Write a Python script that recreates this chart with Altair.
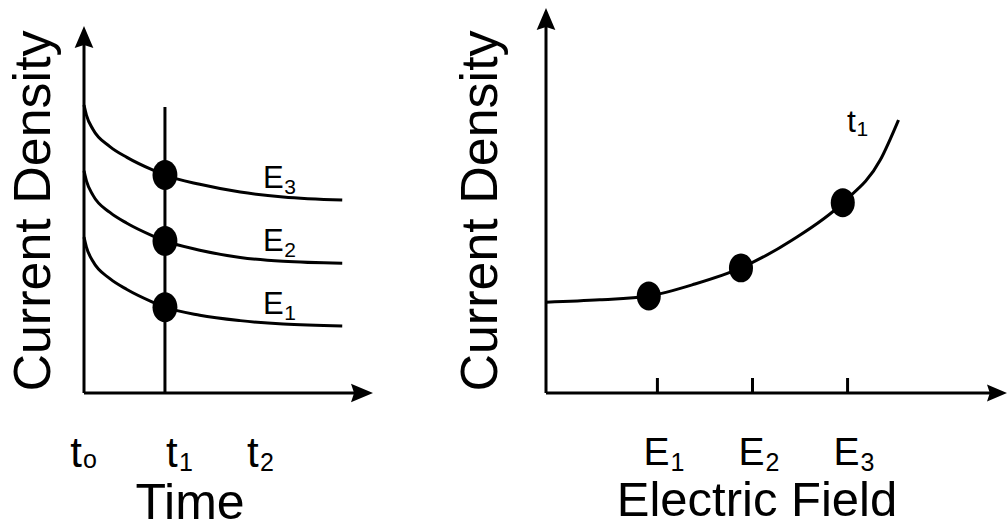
import altair as alt
import pandas as pd

# ---------------- data ----------------
# Left panel: current density vs time, one curve per electric field
time_pts = [0.0, 0.03, 0.11, 0.32, 0.53, 0.84, 1.0, 1.43, 1.93, 2.46, 3.19]
j_E1 = [4.05, 3.79, 3.42, 2.97, 2.69, 2.37, 2.23, 2.02, 1.88, 1.79, 1.74]
j_E2 = [5.77, 5.51, 5.14, 4.69, 4.41, 4.09, 3.95, 3.71, 3.52, 3.42, 3.37]
j_E3 = [7.48, 7.22, 6.85, 6.40, 6.12, 5.80, 5.66, 5.42, 5.22, 5.09, 5.01]
field_names = ["E1", "E2", "E3"]
field_subs = ["1", "2", "3"]
t1_value = 1.0
t1_dots = [2.23, 3.95, 5.66]
t1_line_top = 7.43
time_ticks = [0.0, 1.0, 2.0]
time_tick_subs = ["o", "1", "2"]
time_max = 3.57
jl_max = 9.53

# Right panel: current density vs electric field at t1
field_pts = [0.0, 0.56, 1.07, 1.55, 2.03, 2.56, 3.09, 3.48, 3.67]
j_t1 = [2.36, 2.42, 2.52, 2.83, 3.25, 3.97, 4.94, 6.05, 7.09]
dot_E = [1.07, 2.03, 3.09]
dot_j = [2.52, 3.25, 4.94]
field_ticks = [1.16, 2.15, 3.14]
field_max = 4.8
jr_max = 10.0

FONT = "Liberation Sans"
ELLIPSE = "M-0.83,0 A0.83,1 0 1,0 0.83,0 A0.83,1 0 1,0 -0.83,0 Z"
UP = "M0,0 L0.85,2 L0,1.72 L-0.85,2 Z"
RIGHT = "M0,0 L-2,-0.85 L-1.72,0 L-2,0.85 Z"

LX = alt.Scale(domain=[0, time_max], range=[84, 373], nice=False, zero=False)
LY = alt.Scale(domain=[0, 10], range=[393, 8], nice=False, zero=False)
RX = alt.Scale(domain=[0, field_max], range=[546, 1007], nice=False, zero=False)
RY = alt.Scale(domain=[0, 10], range=[393, 8], nice=False, zero=False)


def lx(f):
    return alt.X(f, type="quantitative", scale=LX, axis=None)


def ly(f):
    return alt.Y(f, type="quantitative", scale=LY, axis=None)


def rx(f):
    return alt.X(f, type="quantitative", scale=RX, axis=None)


def ry(f):
    return alt.Y(f, type="quantitative", scale=RY, axis=None)


# ---------------- left panel ----------------
rows = []
for name, vals in zip(field_names, [j_E1, j_E2, j_E3]):
    for t, j in zip(time_pts, vals):
        rows.append({"t": t, "j": j, "field": name})
df_left = pd.DataFrame(rows)

left_curves = alt.Chart(df_left).mark_line(
    color="black", strokeWidth=3, interpolate="monotone"
).encode(x=lx("t"), y=ly("j"), detail="field:N")

df_t1 = pd.DataFrame({"t": [t1_value], "j0": [0.0], "j1": [t1_line_top]})
left_t1 = alt.Chart(df_t1).mark_rule(color="black", strokeWidth=3).encode(
    x=lx("t"), y=ly("j0"), y2="j1"
)

df_dots_l = pd.DataFrame({"t": [t1_value] * 3, "j": t1_dots})
left_dots = alt.Chart(df_dots_l).mark_point(
    shape=ELLIPSE, size=900, filled=True, color="black", opacity=1, strokeWidth=0
).encode(x=lx("t"), y=ly("j"))

df_laxes = pd.DataFrame({
    "t0": [0.0, 0.0], "t1": [0.0, time_max - 0.15],
    "j0": [0.0, 0.0], "j1": [jl_max - 0.3, 0.0],
})
left_axes = alt.Chart(df_laxes).mark_rule(color="black", strokeWidth=3).encode(
    x=lx("t0"), x2="t1", y=ly("j0"), y2="j1"
)
left_up = alt.Chart(pd.DataFrame({"t": [0.0], "j": [jl_max]})).mark_point(
    shape=UP, size=484, filled=True, color="black", opacity=1, strokeWidth=0
).encode(x=lx("t"), y=ly("j"))
left_right = alt.Chart(pd.DataFrame({"t": [time_max], "j": [0.0]})).mark_point(
    shape=RIGHT, size=484, filled=True, color="black", opacity=1, strokeWidth=0
).encode(x=lx("t"), y=ly("j"))

df_lab = pd.DataFrame({
    "t": [time_pts[-1]] * 3,
    "j": [j_E1[-1], j_E2[-1], j_E3[-1]],
    "sub": field_subs,
})
left_lab_main = alt.Chart(df_lab).mark_text(
    text="E", font=FONT, fontSize=31, color="black", dx=-69, dy=-12,
    align="center", baseline="alphabetic"
).encode(x=lx("t"), y=ly("j"))
left_lab_sub = alt.Chart(df_lab).mark_text(
    font=FONT, fontSize=21, color="black", dx=-58, dy=-6,
    align="left", baseline="alphabetic"
).encode(x=lx("t"), y=ly("j"), text="sub:N")

df_tt = pd.DataFrame({"t": time_ticks, "sub": time_tick_subs})
df_tt0 = df_tt.iloc[:1]
df_tt12 = df_tt.iloc[1:]
tick_t0 = alt.Chart(df_tt0).mark_text(
    text="t", font=FONT, fontSize=42, color="black", dx=-8, align="center",
    baseline="alphabetic"
).encode(x=lx("t"), y=alt.value(467))
tick_t0_sub = alt.Chart(df_tt0).mark_text(
    font=FONT, fontSize=25, color="black", dx=-1, align="left", baseline="alphabetic"
).encode(x=lx("t"), y=alt.value(468), text="sub:N")
tick_t12 = alt.Chart(df_tt12).mark_text(
    text="t", font=FONT, fontSize=42, color="black", dx=7, align="center",
    baseline="alphabetic"
).encode(x=lx("t"), y=alt.value(467))
tick_t12_sub = alt.Chart(df_tt12).mark_text(
    font=FONT, fontSize=25, color="black", dx=14, align="left", baseline="alphabetic"
).encode(x=lx("t"), y=alt.value(471), text="sub:N")

left_panel = alt.layer(
    left_axes, left_up, left_right, left_t1, left_curves, left_dots,
    left_lab_main, left_lab_sub, tick_t0, tick_t0_sub, tick_t12, tick_t12_sub,
)

# ---------------- right panel ----------------
df_right = pd.DataFrame({"E": field_pts, "j": j_t1})
right_curve = alt.Chart(df_right).mark_line(
    color="black", strokeWidth=3, interpolate="monotone"
).encode(x=rx("E"), y=ry("j"))

right_dots = alt.Chart(pd.DataFrame({"E": dot_E, "j": dot_j})).mark_point(
    shape=ELLIPSE, size=840, filled=True, color="black", opacity=1, strokeWidth=0
).encode(x=rx("E"), y=ry("j"))

df_raxes = pd.DataFrame({
    "e0": [0.0, 0.0], "e1": [0.0, field_max - 0.15],
    "j0": [0.0, 0.0], "j1": [jr_max - 0.3, 0.0],
})
right_axes = alt.Chart(df_raxes).mark_rule(color="black", strokeWidth=3).encode(
    x=rx("e0"), x2="e1", y=ry("j0"), y2="j1"
)
right_up = alt.Chart(pd.DataFrame({"E": [0.0], "j": [jr_max]})).mark_point(
    shape=UP, size=484, filled=True, color="black", opacity=1, strokeWidth=0
).encode(x=rx("E"), y=ry("j"))
right_right = alt.Chart(pd.DataFrame({"E": [field_max], "j": [0.0]})).mark_point(
    shape=RIGHT, size=400, filled=True, color="black", opacity=1, strokeWidth=0
).encode(x=rx("E"), y=ry("j"))

df_ft = pd.DataFrame({"E": field_ticks, "j": [0.0] * 3, "sub": field_subs})
right_ticks = alt.Chart(df_ft).mark_rule(color="black", strokeWidth=3).encode(
    x=rx("E"), y=ry("j"), y2=alt.value(378)
)
right_tick_main = alt.Chart(df_ft).mark_text(
    text="E", font=FONT, fontSize=39, color="black", dx=-1, align="center",
    baseline="alphabetic"
).encode(x=rx("E"), y=alt.value(465))
right_tick_sub = alt.Chart(df_ft).mark_text(
    font=FONT, fontSize=25, color="black", dx=13, align="left", baseline="alphabetic"
).encode(x=rx("E"), y=alt.value(471), text="sub:N")

df_t1lab = pd.DataFrame({"E": [field_pts[-1]], "j": [j_t1[-1]], "sub": ["1"]})
right_t1_main = alt.Chart(df_t1lab).mark_text(
    text="t", font=FONT, fontSize=32, color="black", dx=-47, dy=12,
    align="center", baseline="alphabetic"
).encode(x=rx("E"), y=ry("j"))
right_t1_sub = alt.Chart(df_t1lab).mark_text(
    font=FONT, fontSize=21, color="black", dx=-42, dy=16,
    align="left", baseline="alphabetic"
).encode(x=rx("E"), y=ry("j"), text="sub:N")

right_panel = alt.layer(
    right_axes, right_up, right_right, right_ticks, right_curve, right_dots,
    right_tick_main, right_tick_sub, right_t1_main, right_t1_sub,
)

# ---------------- titles ----------------
titles = pd.DataFrame({"label": ["Current Density"]})
ytitle_l = alt.Chart(titles).mark_text(
    font=FONT, fontSize=52, color="black", angle=270, align="center",
    baseline="alphabetic"
).encode(x=alt.value(50), y=alt.value(211), text="label:N")
ytitle_r = alt.Chart(titles).mark_text(
    font=FONT, fontSize=52, color="black", angle=270, align="center",
    baseline="alphabetic"
).encode(x=alt.value(497), y=alt.value(211), text="label:N")
xtitle_l = alt.Chart(pd.DataFrame({"label": ["Time"]})).mark_text(
    font=FONT, fontSize=50, color="black", align="center", baseline="alphabetic"
).encode(x=alt.value(190), y=alt.value(519), text="label:N")
xtitle_r = alt.Chart(pd.DataFrame({"label": ["Electric Field"]})).mark_text(
    font=FONT, fontSize=49, color="black", align="center", baseline="alphabetic"
).encode(x=alt.value(757), y=alt.value(516), text="label:N")

chart = alt.layer(
    left_panel, right_panel, ytitle_l, ytitle_r, xtitle_l, xtitle_r
).resolve_scale(
    x="independent", y="independent"
).properties(
    width=1007, height=529, padding=0,
    autosize=alt.AutoSizeParams(type="none"),
    background="white",
).configure_view(stroke=None)

chart.save("out.html", embed_options={"renderer": "svg", "actions": False})
